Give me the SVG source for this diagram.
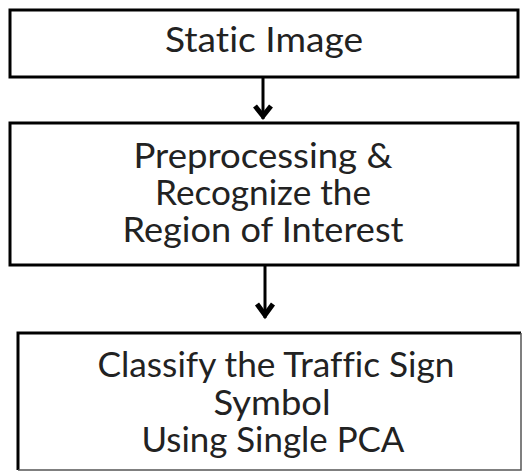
<svg xmlns="http://www.w3.org/2000/svg" width="522" height="472" viewBox="0 0 522 472">
<style>
.box{fill:#fff;stroke:#000;stroke-width:3}
.t{font-family:Lato,"Open Sans",sans-serif;font-size:34px;fill:#222;text-anchor:middle;font-variant-ligatures:none}
.ln{stroke:#000;stroke-width:3;fill:none}
.hd{stroke:#000;stroke-width:5;fill:none;stroke-linejoin:miter}
</style>
<rect width="522" height="472" fill="#fff"/>
<g id="connectors">
<line class="ln" x1="263" y1="77" x2="263" y2="119"/>
<polyline class="hd" points="255,106 263,116 271,106"/>
<line class="ln" x1="265" y1="265" x2="265" y2="318"/>
<polyline class="hd" points="257,304 265,315 273,304"/>
</g>
<g id="n1">
<rect class="box" x="10" y="10" width="508" height="67"/>
<text class="t" x="264" y="52" textLength="198" lengthAdjust="spacingAndGlyphs">Static Image</text>
</g>
<g id="n2">
<rect class="box" x="10" y="123" width="508" height="142"/>
<text class="t" x="263" y="168" textLength="259" lengthAdjust="spacingAndGlyphs">Preprocessing &amp;</text>
<text class="t" x="263" y="205" textLength="216" lengthAdjust="spacingAndGlyphs">Recognize the</text>
<text class="t" x="263" y="242" textLength="281" lengthAdjust="spacingAndGlyphs">Region of Interest</text>
</g>
<g id="n3">
<path d="M18,470 V333 H521" fill="none" stroke="#000" stroke-width="3"/>
<path d="M521,333 V470 H18" fill="none" stroke="#555" stroke-width="1.5"/>
<text class="t" x="276" y="377" textLength="357" lengthAdjust="spacingAndGlyphs">Classify the Traffic Sign</text>
<text class="t" x="272" y="415" textLength="117" lengthAdjust="spacingAndGlyphs">Symbol</text>
<text class="t" x="273" y="452" textLength="263" lengthAdjust="spacingAndGlyphs">Using Single PCA</text>
</g>
</svg>
